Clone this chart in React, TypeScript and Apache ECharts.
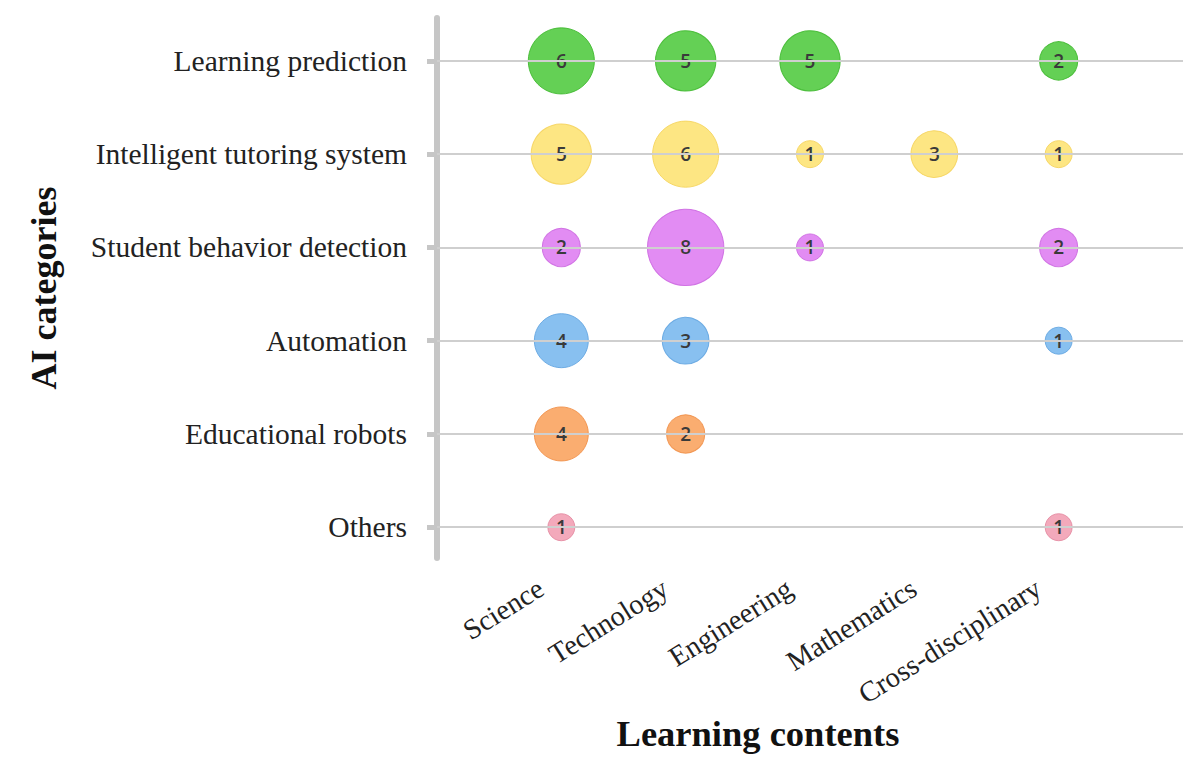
import React, { useEffect, useRef } from "react";
import * as echarts from "echarts";

const contents = ["Science", "Technology", "Engineering", "Mathematics", "Cross-disciplinary"];
// bottom to top
const categories = [
  "Others",
  "Educational robots",
  "Automation",
  "Student behavior detection",
  "Intelligent tutoring system",
  "Learning prediction",
];
const othersCounts = [1, 0, 0, 0, 1];
const robotsCounts = [4, 2, 0, 0, 0];
const automationCounts = [4, 3, 0, 0, 1];
const behaviorCounts = [2, 8, 1, 0, 2];
const tutoringCounts = [5, 6, 1, 3, 1];
const predictionCounts = [6, 5, 5, 0, 2];

const rowCounts = [othersCounts, robotsCounts, automationCounts, behaviorCounts, tutoringCounts, predictionCounts];
const rowColors = ["#f19db2", "#f9a25c", "#78b7ee", "#de7cf1", "#fde272", "#4fca3d"];
const rowBorders = ["#e48aa0", "#f09048", "#63a5e0", "#cc68e0", "#f5d35c", "#3fb82e"];

const serif = "'Liberation Serif', 'Times New Roman', serif";

export default function App() {
  const ref = useRef<HTMLDivElement>(null);
  useEffect(() => {
    if (!ref.current) return;
    const chart = echarts.init(ref.current, undefined, { renderer: "svg" });
    const series: any[] = [
      {
        type: "scatter",
        data: [],
        z: 1,
        silent: true,
        markLine: {
          silent: true,
          symbol: ["none", "none"],
          label: { show: false },
          lineStyle: { color: "#cfcfcf", width: 2, type: "solid" },
          data: categories.map((_, i) => ({ yAxis: i + 1 })),
        },
      },
    ];
    rowCounts.forEach((counts, r) => {
      const data: number[][] = [];
      counts.forEach((c, k) => {
        if (c > 0) data.push([k + 1, r + 1, c]);
      });
      series.push({
        type: "scatter",
        name: categories[r],
        z: 2,
        data,
        symbolSize: (d: number[]) => 27 * Math.sqrt(d[2]),
        itemStyle: { color: rowColors[r], borderColor: rowBorders[r], borderWidth: 1, opacity: 0.88 },
        label: {
          show: true,
          position: "inside",
          formatter: (p: any) => String(p.value[2]),
          color: "#3a3a3a",
          opacity: 1,
          fontSize: 19,
          fontWeight: 600,
          fontFamily: "'Open Sans', sans-serif",
        },
      });
    });
    chart.setOption({
      animation: false,
      backgroundColor: "#ffffff",
      grid: { left: 437, right: 17, top: 18, bottom: 219, containLabel: false },
      xAxis: {
        type: "value",
        min: 0,
        max: 6,
        interval: 1,
        axisLine: { show: false },
        axisTick: { show: false },
        splitLine: { show: false },
        axisLabel: {
          formatter: (v: number) => contents[v - 1] || "",
          rotate: 32,
          margin: 15,
          padding: [0, 24, 0, 0],
          fontFamily: serif,
          fontSize: 28.5,
          color: "#222",
        },
        name: "Learning contents",
        nameLocation: "middle",
        nameGap: 152,
        nameTextStyle: {
          fontFamily: serif,
          fontWeight: "bold",
          fontSize: 36.5,
          color: "#111",
          padding: [0, 104, 0, 0],
        },
      },
      yAxis: {
        type: "value",
        min: 0.67,
        max: 6.46,
        axisLine: { show: true, lineStyle: { color: "#c6c6c6", width: 6 } },
        axisTick: {
          show: true,
          length: 10,
          customValues: [1, 2, 3, 4, 5, 6],
          lineStyle: { color: "#c6c6c6", width: 5 },
        },
        splitLine: { show: false },
        axisLabel: {
          customValues: [1, 2, 3, 4, 5, 6],
          formatter: (v: number) => categories[Math.round(v) - 1] || "",
          margin: 30,
          fontFamily: serif,
          fontSize: 29.5,
          color: "#222",
        },
        name: "AI categories",
        nameLocation: "middle",
        nameGap: 375,
        nameRotate: 90,
        nameTextStyle: { fontFamily: serif, fontWeight: "bold", fontSize: 36, color: "#111" },
      },
      series,
    });
    return () => chart.dispose();
  }, []);
  return <div ref={ref} style={{ position: "fixed", left: 0, top: 0, width: 1200, height: 777 }} />;
}
